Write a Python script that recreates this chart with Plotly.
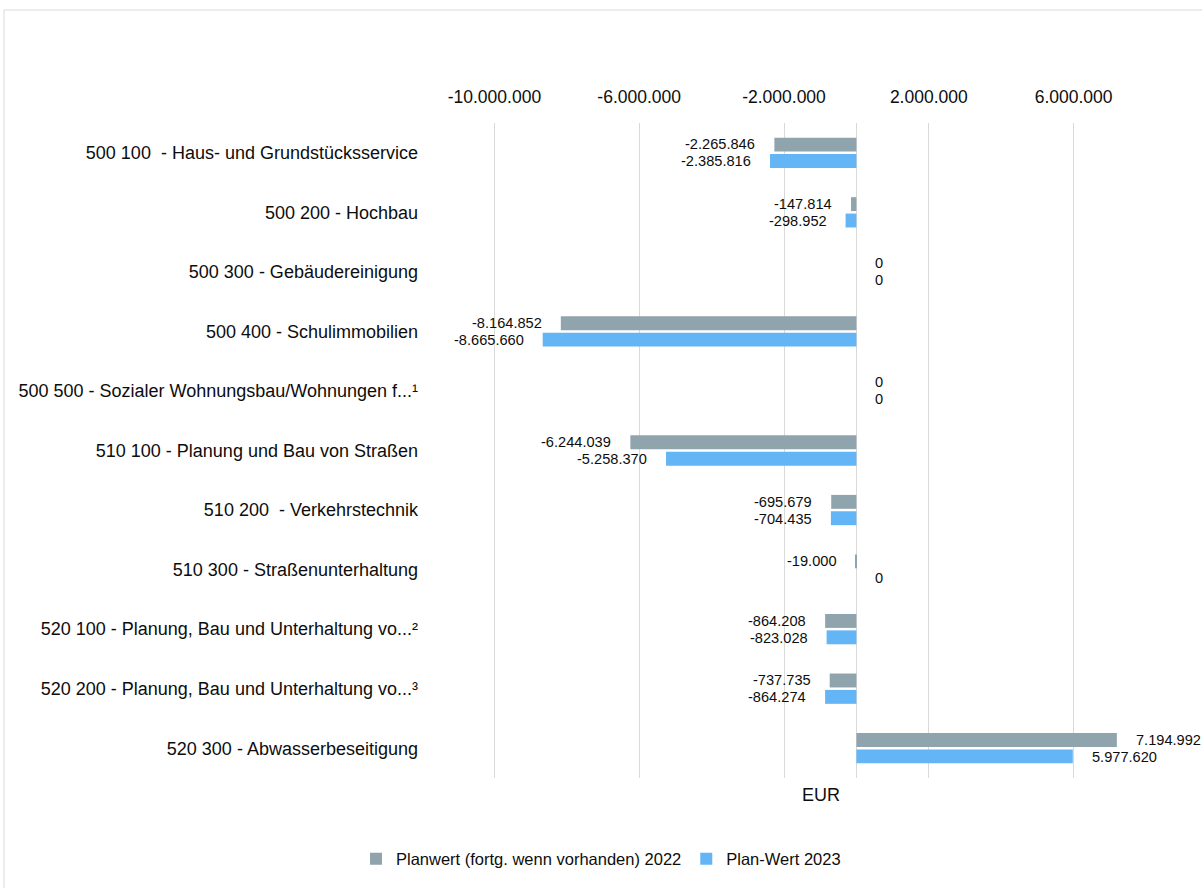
import plotly.graph_objects as go

categories = [
    "500 100  - Haus- und Grundstücksservice",
    "500 200 - Hochbau",
    "500 300 - Gebäudereinigung",
    "500 400 - Schulimmobilien",
    "500 500 - Sozialer Wohnungsbau/Wohnungen f...¹",
    "510 100 - Planung und Bau von Straßen",
    "510 200  - Verkehrstechnik",
    "510 300 - Straßenunterhaltung",
    "520 100 - Planung, Bau und Unterhaltung vo...²",
    "520 200 - Planung, Bau und Unterhaltung vo...³",
    "520 300 - Abwasserbeseitigung",
]
series_names = ["Planwert (fortg. wenn vorhanden) 2022", "Plan-Wert 2023"]
plan_2022 = [-2265846, -147814, 0, -8164852, 0, -6244039, -695679, -19000, -864208, -737735, 7194992]
plan_2023 = [-2385816, -298952, 0, -8665660, 0, -5258370, -704435, 0, -823028, -864274, 5977620]
tick_values = [-10000000, -6000000, -2000000, 2000000, 6000000]

colors = ["#90A4AE", "#64B5F6"]
FONT = "Liberation Sans, Arial, sans-serif"
TXT = "#0d0d0d"

W, H = 1202, 888
L, R, T, B = 422, 56, 123, 110
pw, ph = W - L - R, H - T - B


def fmt(v):
    s = f"{abs(v):,}".replace(",", ".")
    return ("-" if v < 0 else "") + s


fig = go.Figure()
for name, vals, col in zip(series_names, [plan_2022, plan_2023], colors):
    fig.add_trace(go.Bar(
        y=categories, x=vals, name=name, orientation="h",
        marker=dict(color=col, line=dict(width=0)),
    ))

annotations = []
for k, vals in enumerate([plan_2022, plan_2023]):
    yshift = 8.5 if k == 0 else -8.5
    for cat, v in zip(categories, vals):
        neg = v < 0
        annotations.append(dict(
            x=v, y=cat, xref="x", yref="y", text=fmt(v), showarrow=False,
            xanchor="right" if neg else "left", yanchor="middle",
            xshift=-17 if neg else 17, yshift=yshift,
            font=dict(family=FONT, size=14.6, color=TXT),
        ))

annotations.append(dict(
    x=(821 - L) / pw, y=0, xref="paper", yref="paper", text="EUR", showarrow=False,
    xanchor="center", yanchor="top", yshift=-5,
    font=dict(family=FONT, size=18, color=TXT),
))

fig.update_layout(
    width=W, height=H,
    margin=dict(l=L, r=R, t=T, b=B, autoexpand=False),
    paper_bgcolor="white", plot_bgcolor="white",
    barmode="group", bargap=0.45, bargroupgap=0.15,
    font=dict(family=FONT, size=17, color=TXT),
    showlegend=True,
    legend=dict(
        orientation="h", xref="container", yref="container",
        x=0.5, xanchor="center", y=1 - 859 / H, yanchor="middle",
        font=dict(family=FONT, size=16.5, color=TXT),
        traceorder="normal", itemwidth=30,
    ),
    annotations=annotations,
    shapes=[dict(
        type="rect", xref="paper", yref="paper",
        x0=(4 - L) / pw, x1=(W + 5 - L) / pw,
        y0=-(B + 5) / ph, y1=(H - B - 10) / ph,
        line=dict(color="#D9D9D9", width=1), fillcolor="rgba(0,0,0,0)", layer="below",
    )],
)
fig.update_xaxes(
    side="top", range=[-12000000, 8000000],
    tickvals=tick_values, ticktext=[fmt(v) for v in tick_values],
    showgrid=True, gridcolor="#D9D9D9", gridwidth=1.3,
    zeroline=True, zerolinecolor="#D9D9D9", zerolinewidth=1.3,
    showline=False, ticks="", ticklabelstandoff=16,
    tickfont=dict(family=FONT, size=17.5, color=TXT),
    fixedrange=True,
)
fig.update_yaxes(
    autorange="reversed", showgrid=False, zeroline=False, showline=False,
    ticks="", ticklabelstandoff=3,
    tickfont=dict(family=FONT, size=18, color=TXT),
    fixedrange=True,
)

fig.write_html(
    "out.html",
    config={"displayModeBar": False},
    post_script="document.body.style.margin='0';document.body.style.overflow='hidden';",
)
